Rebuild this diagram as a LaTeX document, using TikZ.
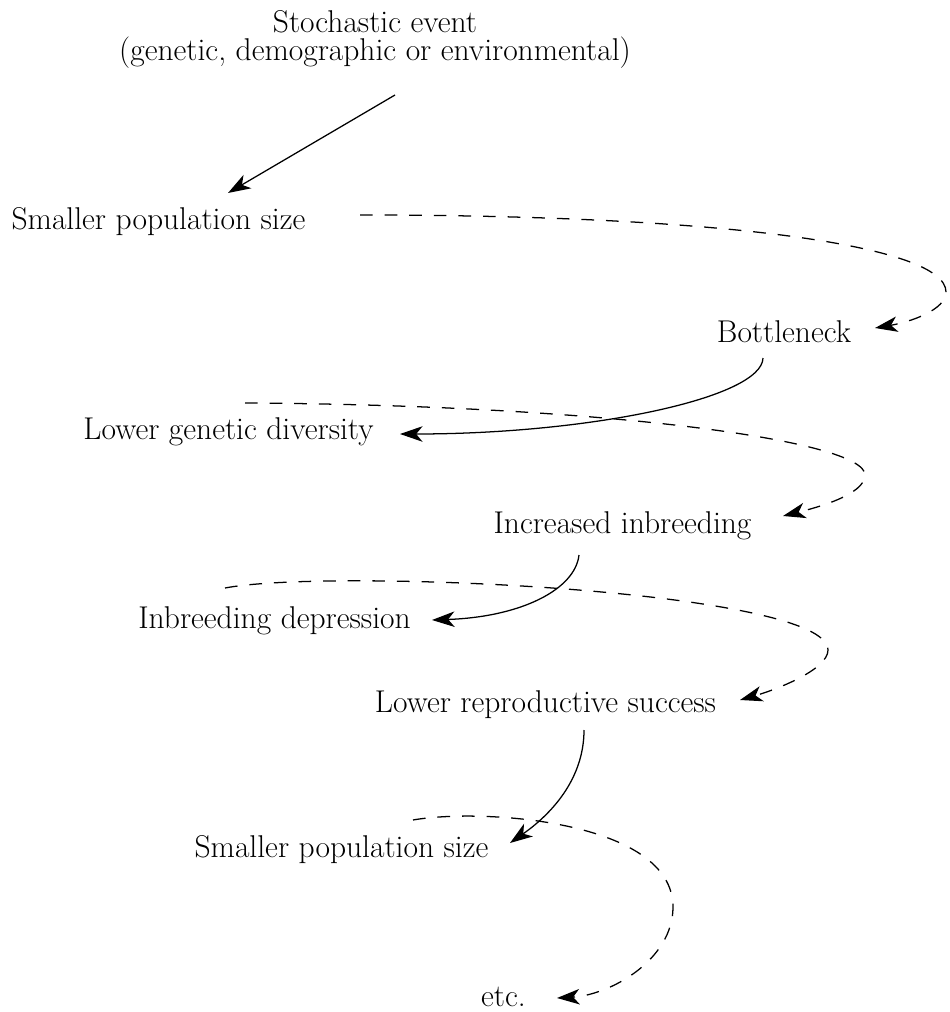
\documentclass[tikz,border=0pt]{standalone}
\usepackage{tikz}
\usetikzlibrary{arrows.meta,calc,positioning}

\tikzset{
  lbl/.style={anchor=base,inner sep=0pt,font=\fontsize{22.4}{20}\selectfont},
  effect/.style={-{Stealth[length=16pt,width=11pt,inset=4.5pt]},line width=0.9pt},
  feedback/.style={effect,dash pattern=on 9pt off 8.5pt},
}

\begin{document}
\begin{tikzpicture}[x=0.025cm,y=-0.025cm]
\useasboundingbox (0,0) rectangle (949,1012);

\node[lbl,anchor=north,align=center] (stoch) at (375,10) {Stochastic event\\(genetic, demographic or environmental)};
\node[lbl] (small1) at (158.5,229) {Smaller population size};
\node[lbl] (bneck) at (784,342) {Bottleneck};
\node[lbl] (lgd) at (228.5,439) {Lower genetic diversity};
\node[lbl] (inbr) at (622.5,533) {Increased inbreeding};
\node[lbl] (idep) at (274.5,628) {Inbreeding depression};
\node[lbl] (lrs) at (545.5,712) {Lower reproductive success};
\node[lbl] (small2) at (341.5,857) {Smaller population size};
\node[lbl] (etc) at (503.5,1006) {etc.};

% causes
\draw[effect] ($(stoch.north)+(20,85)$) -- ($(small1.base)+(69.5,-36)$);
\draw[effect] ($(bneck.base)+(-21,16)$) .. controls +(-1,40) and +(190,0) .. ($(lgd.base)+(171.5,-5)$);
\draw[effect] ($(inbr.base)+(-43.5,22)$) .. controls +(-4,35) and +(88,-3) .. ($(idep.base)+(157.5,-8)$);
\draw[effect] ($(lrs.base)+(38.5,18)$) .. controls +(0,50) and +(40,-28) .. ($(small2.base)+(168.5,-14)$);

% feedback loops
\coordinate (d1) at ($(small1.base)+(201.5,-14)$);
\draw[feedback] (d1) .. controls +(360,0) and +(0,-47) .. (946,292) .. controls +(0,18) and +(35,-6) .. ($(bneck.base)+(91,-14)$);

\coordinate (d2) at ($(lgd.base)+(16.5,-36)$);
\draw[feedback] (d2) .. controls +(355,2) and +(0,-35) .. (865,475) .. controls +(0,20) and +(32,-8) .. ($(inbr.base)+(160.5,-17)$);

\coordinate (d3) at ($(idep.base)+(-49.5,-40)$);
\draw[feedback] (d3) .. controls +(105,-20) and +(0,-60) .. (828,650) .. controls +(0,20) and +(35,-10) .. ($(lrs.base)+(194.5,-12)$);

\coordinate (d4) at ($(small2.base)+(71.5,-37)$);
\draw[feedback] (d4) .. controls +(67,-12) and +(0,-87) .. (673,907) .. controls +(0,53) and +(53,-3) .. ($(etc.base)+(53.5,-8)$);

\end{tikzpicture}
\end{document}
